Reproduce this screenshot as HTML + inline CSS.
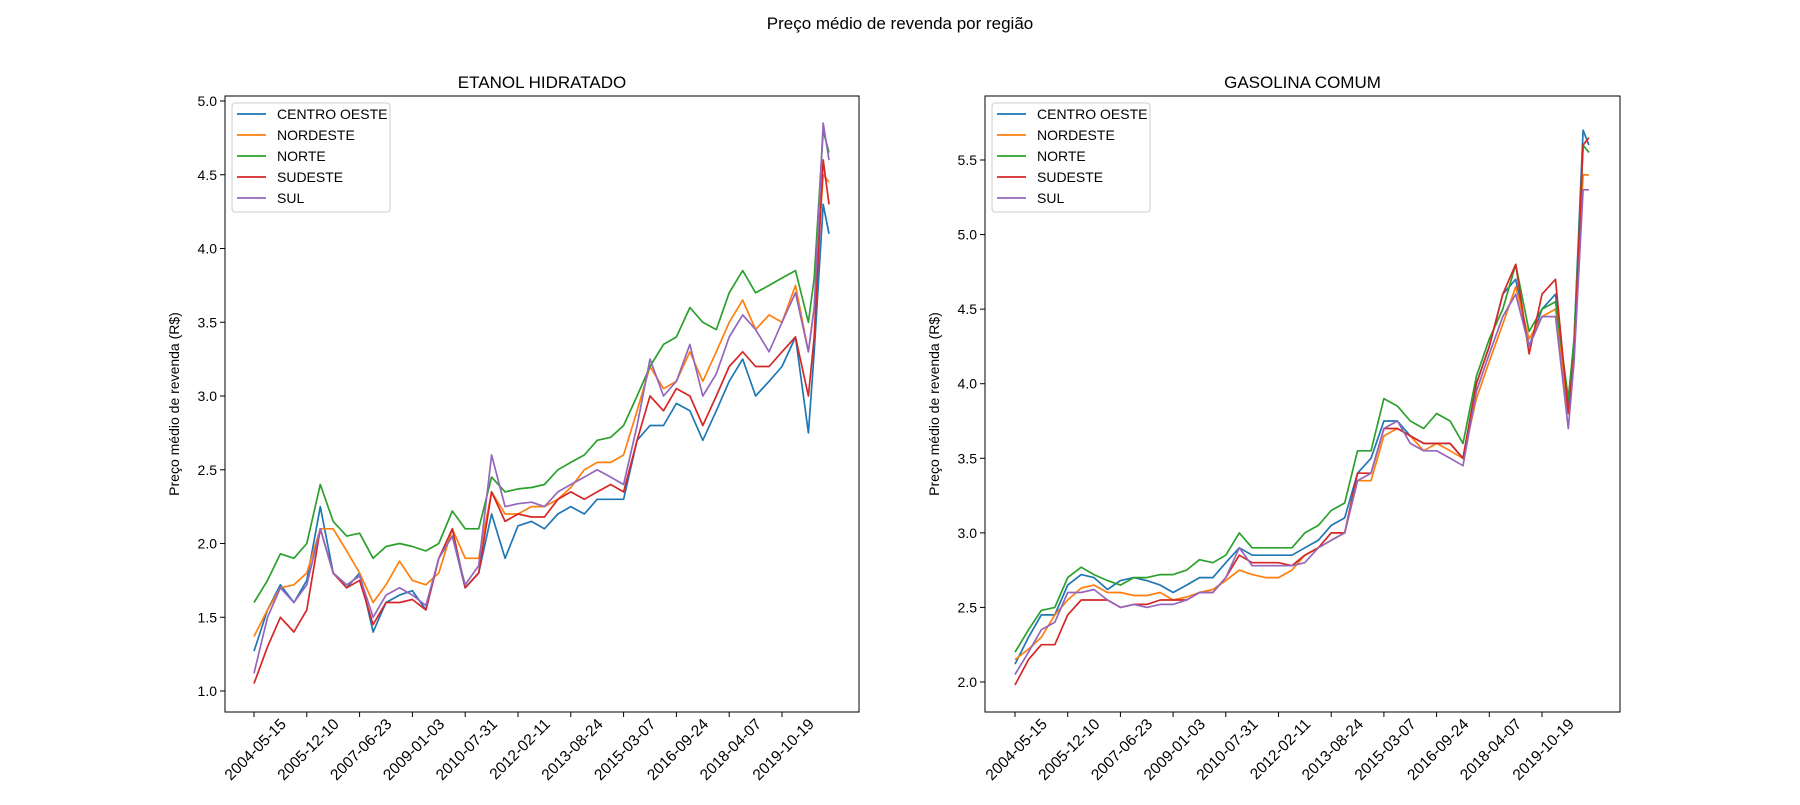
<!DOCTYPE html>
<html><head><meta charset="utf-8"><style>
body{margin:0;background:#fff;}
svg text{font-family:"Liberation Sans","DejaVu Sans",sans-serif;fill:#000;}
</style></head><body>
<svg id="fig" width="1800" height="800" xmlns="http://www.w3.org/2000/svg">
<rect width="1800" height="800" fill="#fff"/>
<text x="900" y="29" font-size="17" text-anchor="middle">Preço médio de revenda por região</text>
</svg>
<script>
const weeks=[];for(let i=0;i<=42;i++)weeks.push(Math.round(i*20.5));weeks.push(870,884,893);
const tickLabels=["2004-05-15","2005-12-10","2007-06-23","2009-01-03","2010-07-31","2012-02-11","2013-08-24","2015-03-07","2016-09-24","2018-04-07","2019-10-19"];
const seriesNames=["CENTRO OESTE","NORDESTE","NORTE","SUDESTE","SUL"];
const colors=["#1f77b4","#ff7f0e","#2ca02c","#d62728","#9467bd"];
const ethCO=[1.27,1.55,1.72,1.6,1.75,2.25,1.8,1.7,1.8,1.4,1.6,1.65,1.68,1.55,1.9,2.05,1.7,1.8,2.2,1.9,2.12,2.15,2.1,2.2,2.25,2.2,2.3,2.3,2.3,2.7,2.8,2.8,2.95,2.9,2.7,2.9,3.1,3.25,3.0,3.1,3.2,3.4,2.75,3.3,4.3,4.1];
const ethNE=[1.37,1.55,1.7,1.72,1.8,2.1,2.1,1.95,1.8,1.6,1.72,1.88,1.75,1.72,1.8,2.1,1.9,1.9,2.35,2.2,2.2,2.25,2.25,2.3,2.38,2.5,2.55,2.55,2.6,2.9,3.2,3.05,3.1,3.3,3.1,3.3,3.5,3.65,3.45,3.55,3.5,3.75,3.3,3.6,4.5,4.45];
const ethN=[1.6,1.75,1.93,1.9,2.0,2.4,2.15,2.05,2.07,1.9,1.98,2.0,1.98,1.95,2.0,2.22,2.1,2.1,2.45,2.35,2.37,2.38,2.4,2.5,2.55,2.6,2.7,2.72,2.8,3.0,3.2,3.35,3.4,3.6,3.5,3.45,3.7,3.85,3.7,3.75,3.8,3.85,3.5,3.8,4.8,4.65];
const ethSE=[1.05,1.3,1.5,1.4,1.55,2.1,1.8,1.7,1.75,1.45,1.6,1.6,1.62,1.55,1.9,2.1,1.7,1.8,2.35,2.15,2.2,2.18,2.18,2.3,2.35,2.3,2.35,2.4,2.35,2.7,3.0,2.9,3.05,3.0,2.8,3.0,3.2,3.3,3.2,3.2,3.3,3.4,3.0,3.4,4.6,4.3];
const ethSUL=[1.12,1.5,1.7,1.6,1.72,2.1,1.8,1.72,1.78,1.5,1.65,1.7,1.65,1.58,1.9,2.05,1.72,1.85,2.6,2.25,2.27,2.28,2.25,2.35,2.4,2.45,2.5,2.45,2.4,2.8,3.25,3.0,3.1,3.35,3.0,3.15,3.4,3.55,3.45,3.3,3.5,3.7,3.3,3.6,4.85,4.6];
const gasCO=[2.12,2.3,2.45,2.45,2.65,2.72,2.7,2.62,2.68,2.7,2.68,2.65,2.6,2.65,2.7,2.7,2.8,2.9,2.85,2.85,2.85,2.85,2.9,2.95,3.05,3.1,3.4,3.5,3.75,3.75,3.65,3.6,3.6,3.6,3.5,4.0,4.25,4.6,4.7,4.25,4.5,4.6,3.85,4.3,5.7,5.6];
const gasNE=[2.15,2.22,2.3,2.45,2.55,2.63,2.65,2.6,2.6,2.58,2.58,2.6,2.55,2.57,2.6,2.62,2.68,2.75,2.72,2.7,2.7,2.75,2.85,2.9,2.95,3.0,3.35,3.35,3.65,3.7,3.65,3.55,3.6,3.55,3.5,3.9,4.15,4.4,4.65,4.3,4.45,4.5,3.8,4.2,5.4,5.4];
const gasN=[2.2,2.35,2.48,2.5,2.7,2.77,2.72,2.68,2.65,2.7,2.7,2.72,2.72,2.75,2.82,2.8,2.85,3.0,2.9,2.9,2.9,2.9,3.0,3.05,3.15,3.2,3.55,3.55,3.9,3.85,3.75,3.7,3.8,3.75,3.6,4.05,4.3,4.5,4.8,4.35,4.5,4.55,3.9,4.3,5.6,5.55];
const gasSE=[1.98,2.15,2.25,2.25,2.45,2.55,2.55,2.55,2.5,2.52,2.52,2.55,2.55,2.55,2.6,2.6,2.7,2.85,2.8,2.8,2.8,2.78,2.85,2.9,3.0,3.0,3.4,3.4,3.7,3.7,3.65,3.6,3.6,3.6,3.5,4.0,4.25,4.6,4.8,4.2,4.6,4.7,3.8,4.2,5.6,5.65];
const gasSUL=[2.05,2.2,2.35,2.4,2.6,2.6,2.62,2.55,2.5,2.52,2.5,2.52,2.52,2.55,2.6,2.6,2.7,2.9,2.78,2.78,2.78,2.78,2.8,2.9,2.95,3.0,3.35,3.4,3.7,3.75,3.6,3.55,3.55,3.5,3.45,3.95,4.2,4.45,4.6,4.25,4.45,4.45,3.7,4.15,5.3,5.3];
const ethTicks=[1.0,1.5,2.0,2.5,3.0,3.5,4.0,4.5,5.0];
const gasTicks=[2.0,2.5,3.0,3.5,4.0,4.5,5.0,5.5];
const NS="http://www.w3.org/2000/svg";
const svg=document.getElementById('fig');
function mk(tag,attrs,parent){const e=document.createElementNS(NS,tag);for(const k in attrs)e.setAttribute(k,attrs[k]);(parent||svg).appendChild(e);return e;}
function panel(p){
  const g=mk('g',{});
  
  
  const xs=w=>p.x0+w*(p.x1-p.x0)/820;
  const ys=v=>p.y0-(v-p.v0)*(p.y0-p.y1)/(p.v1-p.v0);
  const cl='c'+p.name;
  const cp=mk('clipPath',{id:cl},g);mk('rect',{x:p.L,y:p.T,width:p.R-p.L,height:p.B-p.T},cp);
  p.series.forEach((s,k)=>{
    const d=weeks.map((w,i)=>(i?'L':'M')+xs(w).toFixed(1)+' '+ys(s[i]).toFixed(1)).join(' ');
    const path=mk('path',{d:d,fill:'none',stroke:colors[k],'stroke-width':1.7,'stroke-linejoin':'round','clip-path':'url(#'+cl+')'},g);
    
    
  });
  const fr=mk('rect',{x:p.L,y:p.T,width:p.R-p.L,height:p.B-p.T,fill:'none',stroke:'#000','stroke-width':1},g);
  
  
  p.ticks.forEach(v=>{
    const y=ys(v);
    mk('line',{x1:p.L-5,x2:p.L,y1:y,y2:y,stroke:'#000'},g);
    const t=mk('text',{x:p.L-8,y:y+5,'font-size':14,'text-anchor':'end'},g);t.textContent=v.toFixed(1);
    
    
  });
  tickLabels.forEach((lab,i)=>{
    const x=xs(i*82);
    mk('line',{x1:x,x2:x,y1:p.B,y2:p.B+5,stroke:'#000'},g);
    const t=mk('text',{transform:'translate('+(x+33)+','+(p.B+13)+') rotate(-45)','font-size':15.5,'text-anchor':'end'},g);t.textContent=lab;
    
    
  });
  const tt=mk('text',{x:(p.L+p.R)/2,y:p.T-8,'font-size':17,'text-anchor':'middle'},g);tt.textContent=p.title;
  
  
  const yl=mk('text',{transform:'translate('+(p.L-46)+','+((p.T+p.B)/2)+') rotate(-90)','font-size':14,'text-anchor':'middle'},g);yl.textContent='Preço médio de revenda (R$)';
  
  
  const lg=mk('g',{},g);
  
  
  mk('rect',{x:p.L+7,y:p.T+7,width:158,height:109,rx:3,fill:'#fff','fill-opacity':0.8,stroke:'#ccc'},lg);
  seriesNames.forEach((n,k)=>{
    const y=p.T+18+k*21;
    const e=mk('g',{},lg);
    
    
    mk('line',{x1:p.L+12,x2:p.L+41,y1:y,y2:y,stroke:colors[k],'stroke-width':1.7},e);
    const t=mk('text',{x:p.L+52,y:y+5,'font-size':14},e);t.textContent=n;
  });
}
panel({name:'etanol-panel',title:'ETANOL HIDRATADO',L:225,R:859,T:96,B:712,x0:254,x1:782,y0:691,y1:101,v0:1.0,v1:5.0,ticks:ethTicks,series:[ethCO,ethNE,ethN,ethSE,ethSUL]});
panel({name:'gasolina-panel',title:'GASOLINA COMUM',L:985,R:1620,T:96,B:712,x0:1015,x1:1542,y0:682,y1:160,v0:2.0,v1:5.5,ticks:gasTicks,series:[gasCO,gasNE,gasN,gasSE,gasSUL]});
</script>
</body></html>
